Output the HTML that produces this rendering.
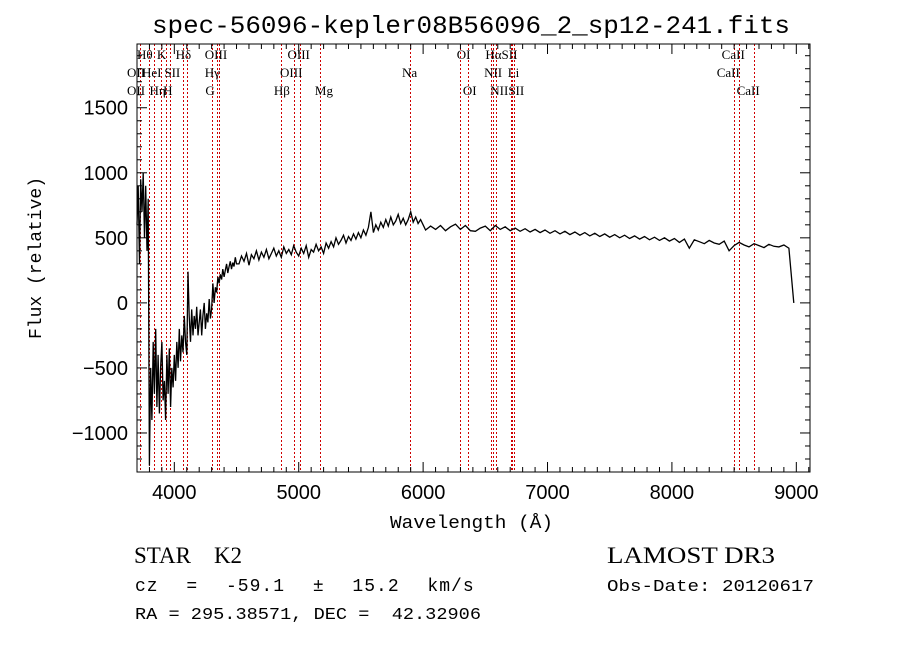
<!DOCTYPE html>
<html><head><meta charset="utf-8"><style>
html,body{margin:0;padding:0;background:#fff;}
svg{display:block;}
</style></head><body>
<svg id="chart" width="900" height="649" xmlns="http://www.w3.org/2000/svg">
<rect width="900" height="649" fill="#fff"/>
<text x="152" y="33" textLength="638" lengthAdjust="spacingAndGlyphs" font-family="Liberation Mono, monospace" font-size="25">spec-56096-kepler08B56096_2_sp12-241.fits</text>
<g id="lines"></g>
<g id="spec"></g>
<g id="axes"></g>
<text x="390" y="528" textLength="163" lengthAdjust="spacingAndGlyphs" font-family="Liberation Mono, monospace" font-size="18">Wavelength (Å)</text>
<text transform="translate(41,258) rotate(-90)" text-anchor="middle" font-family="Liberation Mono, monospace" font-size="18">Flux (relative)</text>
<text x="134" y="563" font-family="Liberation Serif, serif" font-size="23" xml:space="preserve">STAR    K2</text>
<text x="607" y="563" textLength="168" lengthAdjust="spacingAndGlyphs" font-family="Liberation Serif, serif" font-size="23">LAMOST DR3</text>
<text x="135" y="591" font-family="Liberation Mono, monospace" font-size="18" word-spacing="16" letter-spacing="1">cz = -59.1 ± 15.2 km/s</text>
<text x="607" y="591" textLength="207" lengthAdjust="spacingAndGlyphs" font-family="Liberation Mono, monospace" font-size="17">Obs-Date: 20120617</text>
<text x="135" y="619" textLength="346" lengthAdjust="spacingAndGlyphs" font-family="Liberation Mono, monospace" font-size="17" xml:space="preserve">RA = 295.38571, DEC =  42.32906</text>
</svg>
<script>
const wave0Start=3700, wave0Step=10;
const flux0=[600,900,300,950,700,1000,500,900,400,800,-1250,-500,-900,-300,-700,-200,-800,-400,-850,-500,
-300,-750,-600,-900,-400,-700,-350,-800,-500,-650,-400,-600,-300,-500,-200,-450,-250,-380,-100,-300,
-400,240,-100,-300,-50,-250,-100,-200,-30,-250,-150,-50,-250,-100,0,-200,-80,-150,30,-120,
-50,150,0,120,80,200,150,220,180,260,200,250,300,230,280,320,260,310,280,350,300];
const wave1Start=4520, wave1Step=20;
const flux1=[300,360,320,380,290,370,340,400,330,390,350,410,340,380,420,360,400,350,430,380,410,370,440,390,
360,420,380,440,350,410,390,450,400,430,380,460,420,470,430,500,450,480,520,460,510,480,530,490,540,
500,560,520,580,700,540,600,560,620,580,640,590,660,600,630,680,610,650,600,640,700,620,660,610,640,
600];
const wave2Start=6020, wave2Step=40;
const flux2=[560,590,565,595,555,585,605,565,595,555,550,575,590,555,595,565,585,555,575,550,
570,545,565,540,560,535,555,530,550,525,545,520,540,515,535,510,530,505,525,500,
520,495,515,490,510,485,505,480,500,475,495,465,490,420,485,470,455,480,460,450,
475,400,440,465,445,430,455,440,425,450,435,430,445,420,0];
const xTicks=[4000,5000,6000,7000,8000,9000];
const yTicks=[-1000,-500,0,500,1000,1500];
const lineWaves=[3727,3798,3835,3889,3934,3969,4072,4102,4304,4341,4363,4861,4959,5007,5175,5894,6300,6364,6548,6563,6583,6708,6716,6731,8498,8542,8662];
const labelNames=["Hθ","K","Hδ","OIII","OIII","OI","HαSII","CaII","OII","HeI","SII","Hγ","OIII","Na","NII","Li","CaII","OII","Hη","H","G","Hβ","Mg","OI","NIISII","CaII"];
const labelWaves=[3700,3860,4010,4245,4910,6270,6500,8400,3620,3740,3920,4245,4850,5830,6490,6680,8360,3620,3800,3910,4250,4800,5130,6320,6540,8520];
const labelRows=[0,0,0,0,0,0,0,0,1,1,1,1,1,1,1,1,1,2,2,2,2,2,2,2,2,2];
const X0=137,X1=810,Y0=44,Y1=472,WMIN=3700,WMAX=9110,FMIN=-1300,FMAX=1990;
const sx=w=>X0+(w-WMIN)/(WMAX-WMIN)*(X1-X0);
const sy=f=>Y1-(f-FMIN)/(FMAX-FMIN)*(Y1-Y0);
const NS="http://www.w3.org/2000/svg";
function mk(tag,attrs,parent){const e=document.createElementNS(NS,tag);for(const k in attrs)e.setAttribute(k,attrs[k]);parent.appendChild(e);return e;}
const gl=document.getElementById('lines');
lineWaves.forEach(w=>{const x=Math.round(sx(w))+0.5;const l=mk('line',{x1:x,x2:x,y1:Y0,y2:Y1,stroke:'#d00000','stroke-width':1,'stroke-dasharray':'2,2','shape-rendering':'crispEdges'},gl);

});
labelNames.forEach((n,i)=>{const t=mk('text',{x:sx(labelWaves[i]),y:59+labelRows[i]*18,'font-family':'Liberation Serif, serif','font-size':13},gl);t.textContent=n;

});
const gs=document.getElementById('spec');
let pts=[];
flux0.forEach((f,i)=>pts.push(sx(wave0Start+i*wave0Step).toFixed(1)+','+sy(f).toFixed(1)));
flux1.forEach((f,i)=>pts.push(sx(wave1Start+i*wave1Step).toFixed(1)+','+sy(f).toFixed(1)));
flux2.forEach((f,i)=>pts.push(sx(wave2Start+i*wave2Step).toFixed(1)+','+sy(f).toFixed(1)));
const pl=mk('polyline',{points:pts.join(' '),fill:'none',stroke:'#000','stroke-width':1.3},gs);


const ga=document.getElementById('axes');
mk('rect',{x:X0,y:Y0,width:X1-X0,height:Y1-Y0,fill:'none',stroke:'#000','stroke-width':1},ga);
for(let w=3700;w<=9100;w+=100){const L=(w%1000===0)?10:5;
mk('line',{x1:sx(w),x2:sx(w),y1:Y1,y2:Y1-L,stroke:'#000'},ga);
mk('line',{x1:sx(w),x2:sx(w),y1:Y0,y2:Y0+L,stroke:'#000'},ga);}
xTicks.forEach(w=>{const t=mk('text',{x:sx(w),y:Y1+27,'text-anchor':'middle','font-family':'Liberation Sans, sans-serif','font-size':20},ga);t.textContent=w;

});
for(let f=-1300;f<=1900;f+=100){const L=(f%500===0)?10:5;
mk('line',{x1:X0,x2:X0+L,y1:sy(f),y2:sy(f),stroke:'#000'},ga);
mk('line',{x1:X1,x2:X1-L,y1:sy(f),y2:sy(f),stroke:'#000'},ga);}
yTicks.forEach(f=>{const t=mk('text',{x:X0-9,y:sy(f)+7,'text-anchor':'end','font-family':'Liberation Sans, sans-serif','font-size':20},ga);t.textContent=f<0?'\u2212'+(-f):f;

});
</script>
</body></html>
